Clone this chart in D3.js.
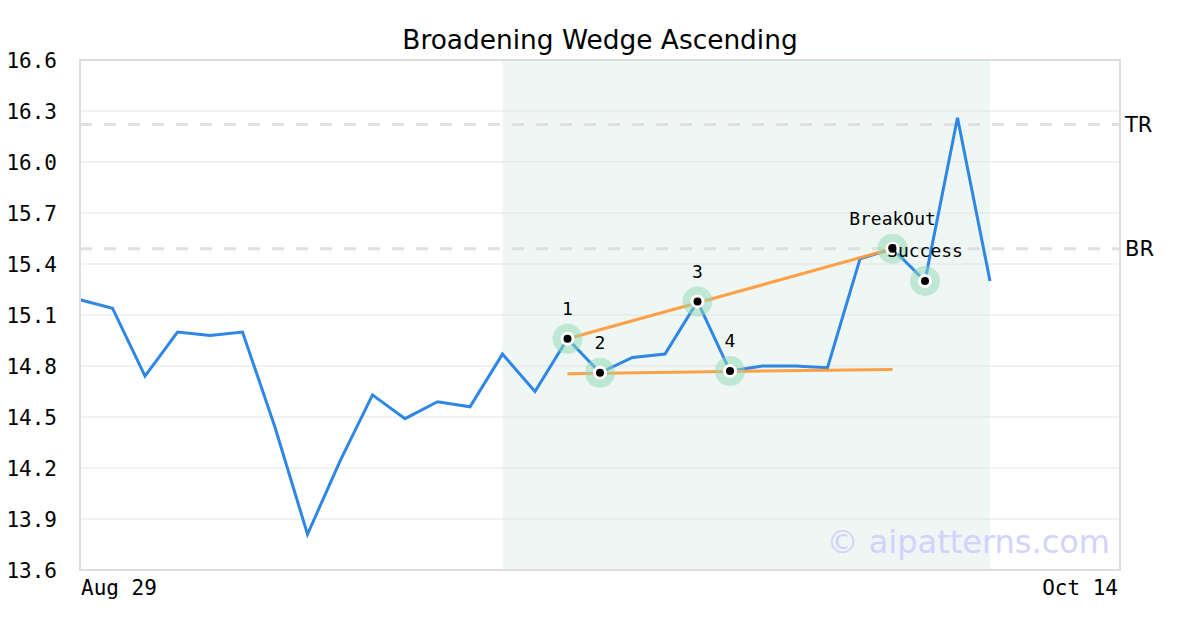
<!DOCTYPE html>
<html><head><meta charset="utf-8">
<script src="https://cdn.jsdelivr.net/npm/d3@7"></script>
<style>body{margin:0;background:#fff}svg{display:block}</style>
</head><body>
<svg id="c" width="1200" height="630"></svg>
<script>
const title = "Broadening Wedge Ascending";
const prices = [15.19,15.14,14.74,15.00,14.98,15.00,14.44,13.81,14.24,14.63,14.49,14.59,14.56,14.87,14.65,14.96,14.76,14.85,14.87,15.18,14.77,14.80,14.80,14.79,15.43,15.49,15.30,16.26,15.30];
const slotCount = 33;
const xLabels = [{i:0,t:"Aug 29",a:"start"},{i:32,t:"Oct 14",a:"end"}];
const yTicks = [13.6,13.9,14.2,14.5,14.8,15.1,15.4,15.7,16.0,16.3,16.6];
const shadeRange = [13, 28];
const markerIdx = [15,16,19,20,25,26];
const markerLabels = ["1","2","3","4","BreakOut","Success"];
const upperLine = [[15,14.96],[25,15.49]];
const lowerLine = [[15,14.755],[25,14.78]];
const refLevels = [{v:16.22,t:"TR"},{v:15.49,t:"BR"}];

const svg = d3.select("#c");
const L=80,R=1120,T=60,B=570;
const x = d3.scaleLinear().domain([0,slotCount-1]).range([L,R]);
const y = d3.scaleLinear().domain([13.6,16.6]).range([B,T]);
const mono = "'DejaVu Sans Mono', monospace";
const sans = "'DejaVu Sans', sans-serif";

svg.append("text").attr("x",600).attr("y",49).attr("text-anchor","middle")
  .attr("font-family",sans).attr("font-size",26.4).attr("fill","#000").text(title);

// shade
svg.append("rect").attr("x",x(shadeRange[0])).attr("y",T).attr("width",x(shadeRange[1])-x(shadeRange[0])).attr("height",B-T).attr("fill","#eef7f3");

// grid
svg.append("g").selectAll("line").data(yTicks).join("line")
  .attr("x1",L).attr("x2",R).attr("y1",d=>y(d)).attr("y2",d=>y(d))
  .attr("stroke","#e3e3e3").attr("stroke-width",1);

// y axis labels
const yAxis = d3.axisLeft(y).tickValues(yTicks).tickFormat(d3.format(".1f")).tickSize(0).tickPadding(0);
const ga = svg.append("g").attr("transform",`translate(57,0)`).call(yAxis);
ga.select(".domain").remove();
ga.selectAll("text").attr("font-family",mono).attr("font-size",21).attr("fill","#000").attr("dy","0.35em");

// x labels
svg.append("g").selectAll("text").data(xLabels).join("text")
  .attr("x",d=>d.a==="start"?x(d.i)+1:x(d.i)-2).attr("y",595).attr("text-anchor",d=>d.a)
  .attr("font-family",mono).attr("font-size",21).attr("fill","#000").text(d=>d.t);

// ref lines
svg.append("g").selectAll("line").data(refLevels).join("line")
  .attr("x1",L).attr("x2",R).attr("y1",d=>y(d.v)).attr("y2",d=>y(d.v))
  .attr("stroke","#e0e0e0").attr("stroke-width",3).attr("stroke-dasharray","12,12");
svg.append("g").selectAll("text").data(refLevels).join("text")
  .attr("x",1125).attr("y",d=>y(d.v)).attr("dy","0.35em")
  .attr("font-family",sans).attr("font-size",21).attr("fill","#000").text(d=>d.t);

// watermark
svg.append("text").attr("x",1110).attr("y",553).attr("text-anchor","end")
  .attr("font-family",sans).attr("font-size",32).attr("fill","#ccccff").attr("opacity",0.85).text("© aipatterns.com");

// price line
const line = d3.line().x((d,i)=>x(i)).y(d=>y(d));
svg.append("path").datum(prices).attr("d",line).attr("fill","none")
  .attr("stroke","#2e86e6").attr("stroke-width",3).attr("stroke-linejoin","miter");

// trend lines
const tl = d3.line().x(d=>x(d[0])).y(d=>y(d[1]));
[upperLine,lowerLine].forEach(l=>svg.append("path").attr("d",tl(l)).attr("fill","none")
  .attr("stroke","#ff9a3c").attr("stroke-width",3).attr("opacity",0.95));

// markers
const mk = svg.append("g").selectAll("g").data(markerIdx).join("g")
  .attr("transform",i=>`translate(${x(i)},${y(prices[i])})`);
mk.append("circle").attr("r",15).attr("fill","#8fd9b6").attr("opacity",0.5);
mk.append("circle").attr("r",7).attr("fill","#fff");
mk.append("circle").attr("r",4).attr("fill","#000");
mk.append("text").attr("y",-30).attr("dy","0.35em").attr("text-anchor","middle")
  .attr("font-family",mono).attr("font-size",18).attr("fill","#000")
  .text((d,k)=>markerLabels[k]);

// frame
svg.append("rect").attr("x",L).attr("y",T).attr("width",R-L).attr("height",B-T)
  .attr("fill","none").attr("stroke","#dddddd").attr("stroke-width",2);
</script>
</body></html>
